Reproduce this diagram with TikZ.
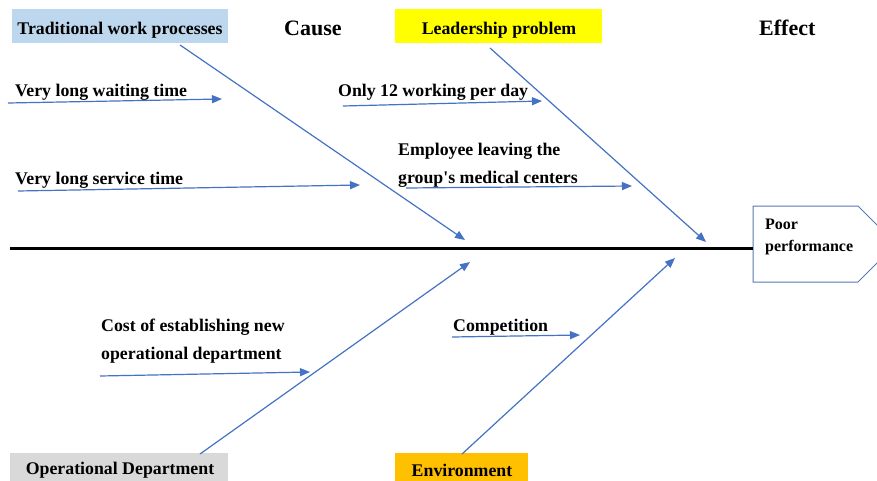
\documentclass[tikz,border=0pt]{standalone}
\usepackage{fontspec}
\setmainfont{Liberation Serif}
\newfontfamily\tnr{Liberation Serif}
\usetikzlibrary{arrows.meta}
\definecolor{bone}{RGB}{68,114,196}
\definecolor{headline}{RGB}{90,120,180}
\definecolor{tradblue}{RGB}{189,215,238}
\definecolor{leadyellow}{RGB}{255,255,0}
\definecolor{opgray}{RGB}{217,217,217}
\definecolor{envorange}{RGB}{255,192,0}
\tikzset{
  lbl/.style={anchor=base west, inner sep=0pt, font=\tnr\fontsize{17.8}{28}\selectfont\bfseries, align=left},
  ttl/.style={anchor=base west, inner sep=0pt, font=\tnr\fontsize{22}{26}\selectfont\bfseries},
  catbox/.style={inner sep=0pt, font=\tnr\fontsize{17.8}{20}\selectfont\bfseries},
  bonearrow/.style={draw=bone, line width=1.2pt, -{Triangle[length=10pt,width=8pt]}},
}
\begin{document}
\begin{tikzpicture}[x=1pt,y=-1pt]
\clip (0,0) rectangle (877,481);
\fill[white] (0,0) rectangle (877,481);
% category boxes
\fill[tradblue] (12,9) rectangle (228,43);
\node[catbox] (trad) at (120,30) {Traditional work processes};
\fill[leadyellow] (395,9) rectangle (602,43);
\node[catbox] (lead) at (499,30) {Leadership problem};
\fill[opgray] (10,453) rectangle (228,495);
\node[catbox] (oper) at (120,470) {Operational Department};
\fill[envorange] (395,453) rectangle (528,495);
\node[catbox] (env) at (462,470) {Environment};
% titles
\node[ttl] (cause) at (284,36) {Cause};
\node[ttl] (effect) at (759,36) {Effect};
% head
\coordinate (h1) at (753,206);
\coordinate (h2) at (858,206);
\coordinate (h3) at (896,244);
\coordinate (h4) at (858,282);
\coordinate (h5) at (753,282);
\draw[headline, line width=1pt] (h1) -- (h2) -- (h3) -- (h4) -- (h5) -- cycle;
\node[lbl, font=\tnr\fontsize{16}{22}\selectfont\bfseries] (poor) at (765,251) {Poor\\performance};
% spine
\coordinate (s0) at (10,248.5);
\draw[line width=3pt, black] (s0) -- (h5 |- s0);
% main bones
\coordinate (b1s) at (180,45);  \coordinate (b1e) at (465,240);
\coordinate (b2s) at (490,48);  \coordinate (b2e) at (706,242);
\coordinate (b3s) at (200,454); \coordinate (b3e) at (470,262);
\coordinate (b4s) at (462,454); \coordinate (b4e) at (675,258);
\draw[bonearrow] (b1s) -- (b1e);
\draw[bonearrow] (b2s) -- (b2e);
\draw[bonearrow] (b3s) -- (b3e);
\draw[bonearrow] (b4s) -- (b4e);
% sub causes
\node[lbl] (wait) at (15,97) {Very long waiting time};
\node[lbl] (serv) at (15,184) {Very long service time};
\node[lbl] (only) at (338,97) {Only 12 working per day};
\node[lbl] (empl) at (398,183) {Employee leaving the\\group's medical centers};
\node[lbl] (cost) at (101,359) {Cost of establishing new\\operational department};
\node[lbl] (comp) at (453,331) {Competition};
\coordinate (a1s) at (8,103);   \coordinate (a1e) at (222,99);
\coordinate (a2s) at (18,191);  \coordinate (a2e) at (360,185);
\coordinate (a3s) at (343,106); \coordinate (a3e) at (542,101);
\coordinate (a4s) at (406,188); \coordinate (a4e) at (632,186);
\coordinate (a5s) at (100,376); \coordinate (a5e) at (310,372);
\coordinate (a6s) at (452,337); \coordinate (a6e) at (580,335);
\draw[bonearrow] (a1s) -- (a1e);
\draw[bonearrow] (a2s) -- (a2e);
\draw[bonearrow] (a3s) -- (a3e);
\draw[bonearrow] (a4s) -- (a4e);
\draw[bonearrow] (a5s) -- (a5e);
\draw[bonearrow] (a6s) -- (a6e);
\end{tikzpicture}
\end{document}
